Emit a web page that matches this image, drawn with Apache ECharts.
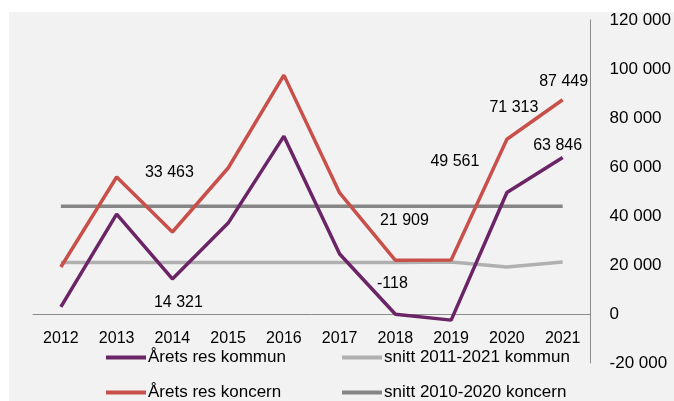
<!DOCTYPE html>
<html>
<head>
<meta charset="utf-8">
<script src="https://cdn.jsdelivr.net/npm/echarts@6/dist/echarts.min.js"></script>
<style>
html, body { margin: 0; padding: 0; background: #ffffff; }
#charts { width: 674px; height: 401px; }
</style>
</head>
<body>
<div id="charts"></div>
<script>
var years = ['2012', '2013', '2014', '2015', '2016', '2017', '2018', '2019', '2020', '2021'];
var resKommun = [2900, 40800, 14321, 37100, 72600, 24500, -118, -2500, 49561, 63846];
var resKoncern = [19200, 55900, 33463, 59600, 97500, 49400, 21909, 22000, 71313, 87449];
var snittKommun = [21000, 21000, 21000, 21000, 21000, 21000, 21000, 21200, 19200, 21200];
var snittKoncern = [44000, 44000, 44000, 44000, 44000, 44000, 44000, 44000, 44000, 44000];
var yTicks = [-20000, 0, 20000, 40000, 60000, 80000, 100000, 120000];

// etiketter som visas i diagrammet: [index, förskjutning x, y]
var kommunLabels = [[2, 6, 24], [6, -3, -31], [8, -52, -31], [9, -5, -12]];
var koncernLabels = [[2, -3, -59], [6, 9, -40], [8, 7, -32], [9, 1, -18]];

var FONT = 'Liberation Sans';

function fmt(v) {
	var s = String(Math.abs(v));
	var out = s.replace(/\B(?=(\d{3})+(?!\d))/g, ' ');
	return (v < 0 ? '-' : '') + out;
}

function buildData(values, labels) {
	var arr = [];
	for (var i = 0; i < values.length; i++) arr.push({ value: values[i] });
	for (var j = 0; j < labels.length; j++) {
		var idx = labels[j][0];
		arr[idx].label = {
			show: true,
			position: 'inside',
			offset: [labels[j][1], labels[j][2]],
			formatter: fmt(values[idx]),
			color: '#000000',
			fontFamily: FONT,
			fontSize: 16
		};
	}
	return arr;
}

var colors = {
	kommun: '#6b2566',
	koncern: '#c9504a',
	snittKommun: '#b0b0b0',
	snittKoncern: '#858585'
};

var legendBase = {
	orient: 'vertical',
	top: 349,
	height: 52,
	padding: 0,
	itemWidth: 40,
	itemHeight: 4,
	itemGap: 18,
	icon: 'rect',
	textStyle: { fontFamily: FONT, fontSize: 17, color: '#000000', padding: [0, 0, 0, -3] }
};

var charts = echarts.init(document.getElementById('charts'));
var option = {
	animation: false,
	graphic: [{
		type: 'rect',
		z: -10,
		silent: true,
		shape: { x: 9, y: 12, width: 665, height: 389 },
		style: { fill: '#f2f2f2' }
	}],
	grid: { left: 33, right: 80, top: 20, bottom: 38 },
	legend: [
		Object.assign({}, legendBase, { left: 106, data: ['Årets res kommun', 'Årets res koncern'] }),
		Object.assign({}, legendBase, { left: 342, data: ['snitt 2011-2021 kommun', 'snitt 2010-2020 koncern'] })
	],
	xAxis: {
		type: 'category',
		boundaryGap: true,
		data: years,
		position: 'bottom',
		offset: -49,
		axisLine: { onZero: false, lineStyle: { color: '#8c8c8c', width: 1 } },
		axisTick: { show: false },
		axisLabel: {
			fontFamily: FONT, fontSize: 16, color: '#000000',
			margin: 17
		},
		splitLine: { show: false }
	},
	yAxis: {
		type: 'value',
		position: 'right',
		min: yTicks[0],
		max: yTicks[yTicks.length - 1],
		interval: 20000,
		axisLine: { show: true, lineStyle: { color: '#8c8c8c', width: 1 } },
		axisTick: { show: false },
		splitLine: { show: false },
		axisLabel: {
			fontFamily: FONT, fontSize: 17, color: '#000000',
			margin: 19,
			formatter: function (v) { return fmt(v); }
		}
	},
	series: [{
		name: 'snitt 2011-2021 kommun',
		type: 'line',
		data: snittKommun,
		symbol: 'none',
		lineStyle: { color: colors.snittKommun, width: 3.5 },
		itemStyle: { color: colors.snittKommun }
	}, {
		name: 'snitt 2010-2020 koncern',
		type: 'line',
		data: snittKoncern,
		symbol: 'none',
		lineStyle: { color: colors.snittKoncern, width: 3.5 },
		itemStyle: { color: colors.snittKoncern }
	}, {
		name: 'Årets res kommun',
		type: 'line',
		data: buildData(resKommun, kommunLabels),
		symbol: 'circle',
		symbolSize: 0,
		showSymbol: true,
		lineStyle: { color: colors.kommun, width: 3.5 },
		itemStyle: { color: colors.kommun }
	}, {
		name: 'Årets res koncern',
		type: 'line',
		data: buildData(resKoncern, koncernLabels),
		symbol: 'circle',
		symbolSize: 0,
		showSymbol: true,
		lineStyle: { color: colors.koncern, width: 3.5 },
		itemStyle: { color: colors.koncern }
	}]
};
charts.setOption(option);
</script>
</body>
</html>
